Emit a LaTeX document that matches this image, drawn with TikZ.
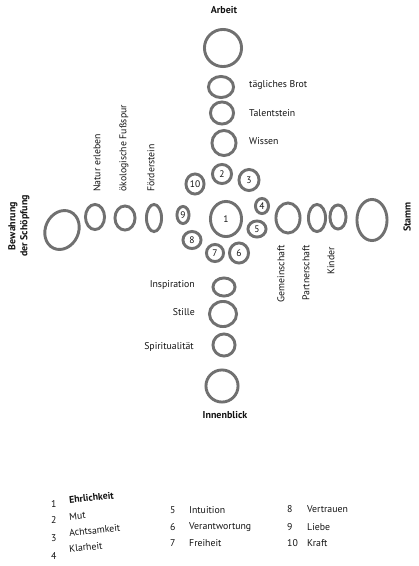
\documentclass[tikz,border=0pt]{standalone}
\usepackage{fontspec}
\setmainfont{PT Sans}
\usetikzlibrary{shapes.geometric}
\definecolor{stonegray}{RGB}{112,112,112}
\definecolor{ink}{RGB}{20,20,20}
\begin{document}
\begin{tikzpicture}[x=1pt,y=-1pt,
  stone/.style={ellipse, draw=stonegray, line width=2.9pt, inner sep=0pt, text=ink,
                font=\fontsize{9.5}{10}\selectfont},
  sz/.style 2 args={minimum width=#1pt-2.9pt, minimum height=#2pt-2.9pt},
  lbl/.style={font=\fontsize{9.8}{11}\selectfont, text=ink, inner sep=0pt},
  head/.style={font=\bfseries\fontsize{10}{12}\selectfont, text=ink, inner sep=0pt},
  num/.style={font=\fontsize{9.8}{11}\selectfont, text=ink, inner sep=0pt},
  skew/.style={num, anchor=west, rotate=6}]
\useasboundingbox[fill=white] (0,0) rectangle (419,566);

% top arm
\node[head] (arbeit) at (224,10) {Arbeit};
\node[stone, sz={40}{40}] (sA) at (223,48) {};
\node[stone, sz={28}{24}] (sB) at (221,87) {};
\node[stone, sz={26}{25}] (sT) at (222,113) {};
\node[stone, sz={27}{28}] (sW) at (224,143) {};
\node[lbl, anchor=west] (lB) at (249,85) {tägliches Brot};
\node[lbl, anchor=west] (lT) at (249,113) {Talentstein};
\node[lbl, anchor=west] (lW) at (249,141) {Wissen};

% centre
\node[stone, sz={34}{38}] (c1) at (226,219) {1};
\node[stone, sz={22}{22}] (c2) at (222,174) {2};
\node[stone, sz={23}{24}] (c3) at (249,180) {3};
\node[stone, sz={16}{18}] (c4) at (262,206) {4};
\node[stone, sz={21}{19}] (c5) at (257,229) {5};
\node[stone, sz={22}{23}] (c6) at (239,253) {6};
\node[stone, sz={20}{20}] (c7) at (215,253) {7};
\node[stone, sz={21}{20}] (c8) at (192,240) {8};
\node[stone, sz={15}{20}] (c9) at (183,215) {9};
\node[stone, sz={21}{23}] (c10) at (195,184) {10};

% left arm
\node[stone, sz={36}{43}, rotate=-25] (sL) at (62,230) {};
\node[stone, sz={22}{28}] (sN) at (95,217) {};
\node[stone, sz={23}{27}] (sO) at (125,218) {};
\node[stone, sz={18}{30}] (sF) at (154,218) {};
\node[head, rotate=90, align=center] (bew) at (19,226) {Bewahrung\\der Schöpfung};
\node[lbl, rotate=90, anchor=west] (lN) at (97,192) {Natur erleben};
\node[lbl, rotate=90, anchor=west] (lO) at (124,192) {ökologische Fußspur};
\node[lbl, rotate=90, anchor=west] (lF) at (151,192) {Förderstein};

% right arm
\node[stone, sz={27}{33}] (sG) at (288,218) {};
\node[stone, sz={20}{30}] (sP) at (317,218) {};
\node[stone, sz={19}{27}] (sK) at (338,217) {};
\node[stone, sz={33}{44}] (sS) at (372,220) {};
\node[lbl, rotate=90, anchor=east] (lG) at (281,245) {Gemeinschaft};
\node[lbl, rotate=90, anchor=east] (lP) at (306,245) {Partnerschaft};
\node[lbl, rotate=90, anchor=east] (lK) at (331,247) {Kinder};
\node[head, rotate=90] (stamm) at (407,217) {Stamm};

% bottom arm
\node[stone, sz={25}{21}] (sI) at (224,287) {};
\node[stone, sz={30}{28}] (sSt) at (223,314) {};
\node[stone, sz={25}{25}] (sSp) at (224,345) {};
\node[stone, sz={35}{35}] (sIn) at (222,386) {};
\node[lbl, anchor=east] (lI) at (195,285) {Inspiration};
\node[lbl, anchor=east] (lSt) at (195,312) {Stille};
\node[lbl, anchor=east] (lSp) at (194,347) {Spiritualität};
\node[head] (innen) at (225,415) {Innenblick};

% legend
\node[num, anchor=west] (n1) at (51,504) {1};
\node[num, anchor=west] (n2) at (51,520) {2};
\node[num, anchor=west] (n3) at (51,538) {3};
\node[num, anchor=west] (n4) at (51,556) {4};
\node[skew, font=\bfseries\fontsize{9.8}{11}\selectfont] (w1) at (69,500) {Ehrlichkeit};
\node[skew] (w2) at (69,517) {Mut};
\node[skew] (w3) at (69,533) {Achtsamkeit};
\node[skew] (w4) at (69,549) {Klarheit};
\node[num, anchor=west] (n5) at (170,510) {5};
\node[num, anchor=west] (n6) at (170,527) {6};
\node[num, anchor=west] (n7) at (170,543) {7};
\node[num, anchor=west] (w5) at (189,510) {Intuition};
\node[num, anchor=west] (w6) at (189,527) {Verantwortung};
\node[num, anchor=west] (w7) at (189,543) {Freiheit};
\node[num, anchor=west] (n8) at (287,509) {8};
\node[num, anchor=west] (n9) at (287,527) {9};
\node[num, anchor=west] (n10) at (287,543) {10};
\node[num, anchor=west] (w8) at (307,509) {Vertrauen};
\node[num, anchor=west] (w9) at (307,527) {Liebe};
\node[num, anchor=west] (w10) at (307,543) {Kraft};
\end{tikzpicture}
\end{document}
